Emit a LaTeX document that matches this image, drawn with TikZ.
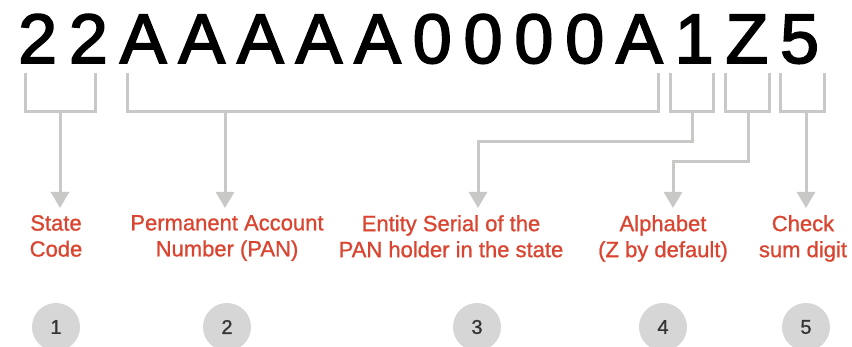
\documentclass[tikz,border=0pt]{standalone}
\usepackage{fontspec}
\setmainfont{Liberation Sans}
\newfontfamily\codefont[LetterSpace=17,FakeBold=2.5]{Liberation Sans}
\newfontfamily\fieldfont[FakeBold=1]{Liberation Sans}
\usetikzlibrary{arrows.meta}
\definecolor{bracketgray}{RGB}{200,201,199}
\definecolor{fieldred}{RGB}{217,69,48}
\definecolor{circlegray}{RGB}{214,214,214}
\definecolor{numgray}{RGB}{51,51,51}

\begin{document}
\begin{tikzpicture}[x=1pt,y=-1pt,
    bracket/.style={draw=bracketgray,line width=3pt},
    pointer/.style={bracket,-{Triangle[width=18pt,length=16pt]}},
    fieldname/.style={anchor=north,inner sep=0pt,align=center,text=fieldred,
        font=\fieldfont\fontsize{22}{26}\selectfont},
    stepnum/.style={circle,fill=circlegray,minimum size=48pt,inner sep=0pt,
        text=numgray,font=\fieldfont\fontsize{20}{20}\selectfont}]
    \useasboundingbox (0,0) rectangle (852,347);

    % The GSTIN itself
    \node[anchor=base west,inner sep=0pt,font=\codefont\fontsize{70}{70}\selectfont]
        (gstin) at (18,63) {22AAAAA0000A1Z5};

    % Brackets under the groups
    \draw[bracket] (25,73) -- (25,112) -- (95,112) -- (95,73);
    \draw[bracket] (127,73) -- (127,112) -- (658,112) -- (658,73);
    \draw[bracket] (670,73) -- (670,112) -- (713,112) -- (713,73);
    \draw[bracket] (725,73) -- (725,112) -- (769,112) -- (769,73);
    \draw[bracket] (780,73) -- (780,112) -- (824,112) -- (824,73);

    % Field names
    \node[fieldname] (fieldState) at (56,215) {State\\Code};
    \node[fieldname] (fieldPan) at (227,215) {Permanent Account\\Number (PAN)};
    \node[fieldname] (fieldSerial) at (451,215) {Entity Serial of the\\PAN holder in the state};
    \node[fieldname] (fieldAlpha) at (663,215) {Alphabet\\(Z by default)};
    \node[fieldname] (fieldCheck) at (803,215) {Check\\sum digit};

    % Pointers
    \coordinate (stemState) at (60,112);
    \coordinate (stemPan) at (225,112);
    \coordinate (stemSerial) at (692,112);
    \coordinate (stemAlpha) at (748,112);
    \coordinate (stemCheck) at (806,112);
    \coordinate (bendSerial) at (478,142);
    \coordinate (bendAlpha) at (673,162);
    \draw[pointer] (stemState) -- (stemState |- 0,208);
    \draw[pointer] (stemPan) -- (stemPan |- 0,208);
    \draw[pointer] (stemSerial) |- (bendSerial) -- (bendSerial |- 0,208);
    \draw[pointer] (stemAlpha) |- (bendAlpha) -- (bendAlpha |- 0,208);
    \draw[pointer] (stemCheck) -- (stemCheck |- 0,208);

    % Step numbers
    \node[stepnum] (numState) at (56,327) {1};
    \node[stepnum] (numPan) at (227,327) {2};
    \node[stepnum] (numSerial) at (477,327) {3};
    \node[stepnum] (numAlpha) at (663,327) {4};
    \node[stepnum] (numCheck) at (806,327) {5};
\end{tikzpicture}
\end{document}
